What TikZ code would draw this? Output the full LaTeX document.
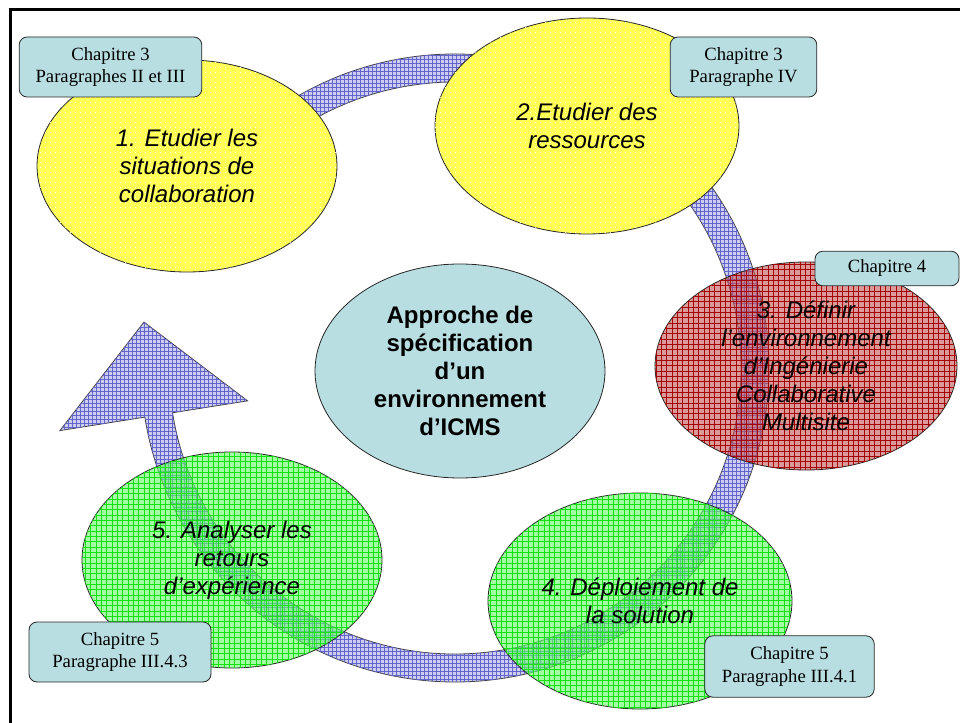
\documentclass[tikz,border=0pt]{standalone}
\usepackage{fontspec}
\setmainfont{Liberation Serif}
\setsansfont{Liberation Sans}
\usepackage{tikz}
\usetikzlibrary{shapes.geometric,patterns,calc}

\definecolor{bleuclair}{RGB}{185,222,226}
\definecolor{jaunefond}{RGB}{255,255,85}
\definecolor{rougefond}{RGB}{195,80,80}
\definecolor{rougetrait}{RGB}{165,0,0}
\definecolor{vertfond}{RGB}{100,255,100}
\definecolor{verttrait}{RGB}{20,225,20}
\definecolor{mauvefond}{RGB}{205,205,240}
\definecolor{mauvetrait}{RGB}{100,100,205}

% motifs
\pgfdeclarepatternformonly{grille}{\pgfqpoint{-1pt}{-1pt}}{\pgfqpoint{4pt}{4pt}}{\pgfqpoint{4pt}{4pt}}
{
  \pgfsetlinewidth{0.3pt}
  \pgfpathmoveto{\pgfqpoint{0pt}{0pt}}
  \pgfpathlineto{\pgfqpoint{0pt}{4.1pt}}
  \pgfpathmoveto{\pgfqpoint{0pt}{0pt}}
  \pgfpathlineto{\pgfqpoint{4.1pt}{0pt}}
  \pgfusepath{stroke}
}
\pgfdeclarepatternformonly{points}{\pgfqpoint{-0.5pt}{-0.5pt}}{\pgfqpoint{3.25pt}{3.25pt}}{\pgfqpoint{3.75pt}{3.75pt}}
{
  \pgfpathrectangle{\pgfqpoint{0pt}{0pt}}{\pgfqpoint{1.1pt}{1.1pt}}
  \pgfusepath{fill}
}

\begin{document}
\begin{tikzpicture}[
  x=0.75pt, y=-0.75pt,
  etape/.style={ellipse, draw=black!85, line width=0.6pt, inner sep=0pt, align=center, text opacity=1,
    font=\sffamily\itshape\fontsize{18}{21}\selectfont},
  jaune/.style={etape, fill=jaunefond, postaction={pattern=points, pattern color=white}},
  rouge/.style={etape, fill=rougefond, fill opacity=0.58, postaction={pattern=grille, pattern color=rougetrait}},
  vert/.style={etape, fill=vertfond, fill opacity=0.6, postaction={pattern=grille, pattern color=verttrait}},
  centre/.style={ellipse, draw=black!85, line width=0.6pt, inner sep=0pt, align=center, fill=bleuclair,
    font=\sffamily\bfseries\fontsize{18}{21}\selectfont},
  renvoi/.style={rectangle, rounded corners=6pt, draw=black!85, line width=0.6pt, fill=bleuclair,
    inner sep=0pt, align=center, font=\fontsize{14}{17}\selectfont},
  boucle/.style={draw=black!75, line width=0.6pt, fill=mauvefond, postaction={pattern=grid, pattern color=mauvetrait}}
]
\useasboundingbox (0,0) rectangle (960,723);

% cadre
\draw[line width=2.25pt] (10,723) -- (10,10) -- (960,10);

% fleche circulaire
\coordinate (ctr) at (455,368);
\path[boucle] ($(ctr)+(225:314)$) arc[start angle=225, end angle=531, radius=314]
  -- ($(ctr)+(171:400)$) -- ($(ctr)+(171:300)+(261:94)$) -- ($(ctr)+(171:210)$)
  -- ($(ctr)+(171:286)$) arc[start angle=531, end angle=225, radius=286] -- cycle;

% etapes
\node[rouge, minimum width=226.5pt, minimum height=156pt] (definir) at (806,366)
  {3. Définir\\l’environnement\\d’Ingénierie\\Collaborative\\Multisite};
\node[vert, minimum width=228pt, minimum height=162pt] (deploiement) at (640,601)
  {4. Déploiement de\\la solution};
\node[vert, minimum width=225pt, minimum height=162pt] (analyse) at (232,560)
  {5. Analyser les\\retours\\d’expérience};
\node[jaune, minimum width=225pt, minimum height=159pt] (etude) at (187,166)
  {1. Etudier les\\situations de\\collaboration};
\node[jaune, minimum width=228pt, minimum height=162pt] (ressources) at (587,126)
  {2.Etudier des\\ressources};

% approche
\node[centre, minimum width=217.5pt, minimum height=160.5pt] (approche) at (460,371)
  {Approche de\\spécification\\d’un\\environnement\\d’ICMS};

% renvois aux chapitres
\node[renvoi, minimum width=137pt, minimum height=45pt] (chapA) at (110.5,67)
  {Chapitre 3\\Paragraphes II et III};
\node[renvoi, minimum width=110pt, minimum height=45pt] (chapB) at (743.5,67)
  {Chapitre 3\\Paragraphe IV};
\node[renvoi, minimum width=108pt, minimum height=26pt] (chapC) at (887,268.5)
  {Chapitre 4};
\node[renvoi, minimum width=136.5pt, minimum height=45pt] (chapD) at (120,652)
  {Chapitre 5\\Paragraphe III.4.3};
\node[renvoi, minimum width=127pt, minimum height=46pt] (chapE) at (789.5,666.5)
  {Chapitre 5\\Paragraphe III.4.1};

\end{tikzpicture}
\end{document}
